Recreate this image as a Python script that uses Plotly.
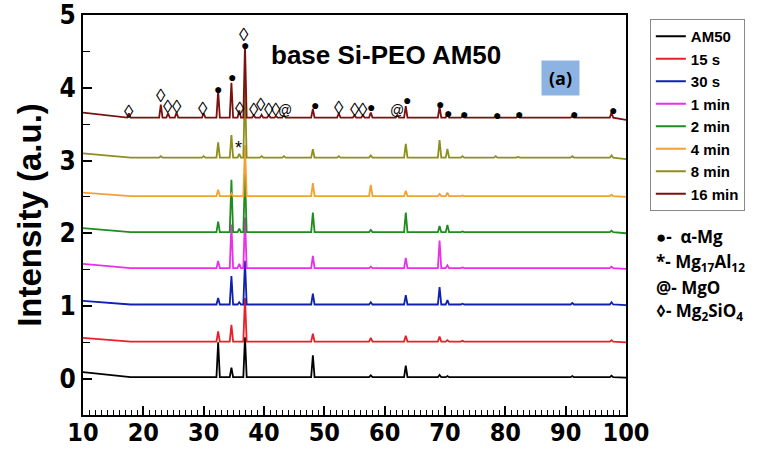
import plotly.graph_objects as go

# ---------------- data ----------------
two_theta = [17.6, 22.9, 24.1, 25.5, 30.0, 32.4, 34.6, 35.9, 36.85, 38.3,
             39.6, 40.8, 42.0, 43.3, 48.1, 52.4, 55.0, 56.4, 57.7, 62.1,
             63.5, 69.1, 70.4, 72.9, 78.4, 82.1, 91.1, 97.6]

series_names = ["AM50", "15 s", "30 s", "1 min", "2 min", "4 min", "8 min", "16 min"]
series_colors = ["#000000", "#E8202A", "#1020B0", "#E830E8", "#1E8C1E", "#F5A033", "#8E8E1E", "#7A1010"]

start_level = [0.09, 0.56, 1.07, 1.58, 2.07, 2.56, 3.10, 3.66]
base_level = [0.02, 0.51, 1.02, 1.52, 2.015, 2.51, 3.04, 3.59]
end_level = [0.015, 0.50, 1.01, 1.51, 2.00, 2.50, 3.02, 3.56]

h_am50 = [0, 0, 0, 0, 0, 0.48, 0.13, 0, 0.55, 0, 0, 0, 0, 0, 0.30, 0, 0, 0, 0.025, 0,
          0.16, 0.03, 0.015, 0, 0.01, 0.01, 0.015, 0.02]
h_15s = [0, 0, 0, 0, 0, 0.14, 0.23, 0, 0.60, 0, 0, 0, 0, 0, 0.11, 0, 0, 0, 0.05, 0,
         0.08, 0.07, 0.02, 0.01, 0.01, 0.01, 0.01, 0.02]
h_30s = [0, 0, 0, 0, 0, 0.09, 0.39, 0.03, 0.60, 0, 0, 0, 0, 0, 0.15, 0, 0, 0, 0.03, 0,
         0.13, 0.24, 0.06, 0.01, 0.01, 0.01, 0.02, 0.03]
h_1min = [0, 0, 0, 0, 0, 0.10, 0.60, 0.06, 0.70, 0, 0, 0, 0, 0, 0.17, 0, 0, 0, 0.02, 0,
          0.14, 0.38, 0.04, 0.01, 0.01, 0.01, 0.01, 0.02]
h_2min = [0, 0, 0, 0, 0, 0.145, 0.72, 0.05, 0.80, 0, 0.01, 0, 0, 0, 0.27, 0, 0, 0, 0.03, 0,
          0.27, 0.085, 0.10, 0.01, 0.01, 0.01, 0.01, 0.02]
h_4min = [0, 0, 0, 0, 0, 0.09, 0.04, 0, 0.70, 0, 0, 0, 0, 0, 0.18, 0, 0, 0, 0.155, 0,
          0.075, 0.03, 0.05, 0.01, 0.01, 0.01, 0.01, 0.02]
h_8min = [0, 0.02, 0, 0, 0.02, 0.21, 0.31, 0.05, 1.0, 0, 0.02, 0, 0, 0.02, 0.115, 0.02, 0, 0, 0.03, 0,
          0.19, 0.24, 0.12, 0.02, 0.02, 0.01, 0.02, 0.03]
h_16min = [0.06, 0.18, 0.06, 0.07, 0.06, 0.37, 0.48, 0.10, 1.0, 0.03, 0.04, 0.03, 0.02, 0.04, 0.12,
           0.06, 0.03, 0.03, 0.07, 0.04, 0.16, 0.15, 0.06, 0.02, 0.02, 0.02, 0.02, 0.07]
heights = [h_am50, h_15s, h_30s, h_1min, h_2min, h_4min, h_8min, h_16min]

# phase markers (2theta, intensity) above the 16 min pattern
mg_x = [32.42, 34.72, 36.81, 48.44, 57.75, 63.78, 69.16, 70.48, 73.11, 78.59, 82.25, 91.30, 97.78]
mg_y = [3.98, 4.15, 4.59, 3.76, 3.73, 3.83, 3.78, 3.66, 3.64, 3.63, 3.64, 3.64, 3.70]
si_x = [17.62, 22.94, 24.14, 25.51, 29.95, 35.94, 36.69, 38.29, 39.56, 40.76, 42.02, 52.38, 55.02, 56.38]
si_y = [3.67, 3.90, 3.75, 3.75, 3.72, 3.72, 4.74, 3.70, 3.77, 3.70, 3.70, 3.73, 3.70, 3.70]
mgo_x = [43.50, 62.02]
mgo_y = [3.70, 3.69]
al_x = [35.82]
al_y = [3.17]

peak_half_width = 0.28

fig = go.Figure()
for name, color, s0, b, e, hs in zip(series_names, series_colors, start_level, base_level, end_level, heights):
    xs = [10.0]
    ys = [s0]
    for p, h in zip(two_theta, hs):
        xs += [p - peak_half_width, p, p + peak_half_width]
        ys += [b, b + h, b]
    xs.append(100.0)
    ys.append(e)
    fig.add_trace(go.Scatter(x=xs, y=ys, mode="lines", name=name,
                             line=dict(color=color, width=1.8)))

ann = []
for x, y in zip(mg_x, mg_y):
    ann.append(dict(x=x, y=y, text="●", showarrow=False, font=dict(size=14, color="black", family="Liberation Sans")))
for x, y in zip(si_x, si_y):
    ann.append(dict(x=x, y=y, text="◊", showarrow=False, font=dict(size=19, color="black", family="Liberation Sans")))
for x, y in zip(mgo_x, mgo_y):
    ann.append(dict(x=x, y=y, text="@", showarrow=False, font=dict(size=14, color="black", family="Liberation Sans")))
for x, y in zip(al_x, al_y):
    ann.append(dict(x=x, y=y, text="*", showarrow=False, font=dict(size=18, color="black", family="Liberation Sans")))

# title and panel label
ann.append(dict(xref="paper", yref="paper", x=0.558, y=0.9425, text="<b>base Si-PEO AM50</b>",
                showarrow=False, font=dict(size=26, family="Liberation Sans", color="black")))
ann.append(dict(xref="paper", yref="paper", x=0.915, y=0.8875, text="<b>(a)</b>", showarrow=False,
                bgcolor="#8DB3E2", width=37, height=34, borderpad=0,
                font=dict(size=18, family="Open Sans", color="black")))

phase_labels = ["●-  α-Mg", "*- Mg<sub>17</sub>Al<sub>12</sub>", "@- MgO", "◊- Mg<sub>2</sub>SiO<sub>4</sub>"]
phase_y_px = [236, 262, 287, 311]
for t, py in zip(phase_labels, phase_y_px):
    ann.append(dict(xref="paper", yref="paper", x=(658 - 83) / 547, y=(415 - py) / 400,
                    xanchor="left", yanchor="middle", text="<b>" + t + "</b>", showarrow=False,
                    font=dict(size=17, family="Open Sans", color="black")))

fig.update_layout(
    width=757, height=449,
    margin=dict(l=83, r=127, t=15, b=34),
    paper_bgcolor="white", plot_bgcolor="white",
    showlegend=True,
    legend=dict(x=(654 - 83) / 547, y=(415 - 19) / 400, xanchor="left", yanchor="top",
                bgcolor="white", bordercolor="#888888", borderwidth=1,
                font=dict(size=15, family="Liberation Sans", color="black", weight="bold")),
    annotations=ann,
)
tick_family = "Liberation Sans Narrow, Arial Narrow, DejaVu Sans Condensed, Liberation Sans"
fig.update_xaxes(range=[10, 100], dtick=10, tick0=10, showline=True, linecolor="black", linewidth=2,
                 mirror=True, ticks="inside", ticklen=9, tickwidth=1.5, tickcolor="black",
                 minor=dict(dtick=1, ticks="inside", ticklen=5, tickwidth=1, tickcolor="black"),
                 showgrid=False, zeroline=False, ticklabelstandoff=-6, automargin=False,
                 ticklabeloverflow="allow",
                 tickfont=dict(size=25, family=tick_family, color="black", weight="bold"))
fig.update_yaxes(range=[-0.5, 5.002], dtick=1, tick0=0, showline=True, linecolor="black", linewidth=2,
                 mirror=True, ticks="inside", ticklen=9, tickwidth=1.5, tickcolor="black",
                 minor=dict(dtick=0.5, ticks="inside", ticklen=7, tickwidth=1, tickcolor="black"),
                 showgrid=False, zeroline=False, automargin=False, ticklabeloverflow="allow",
                 tickfont=dict(size=26, family=tick_family, color="black", weight="bold"),
                 title=dict(text="Intensity (a.u.)", standoff=8,
                            font=dict(size=33, family="Liberation Sans", color="black", weight="bold")))

fig.write_html("out.html")
